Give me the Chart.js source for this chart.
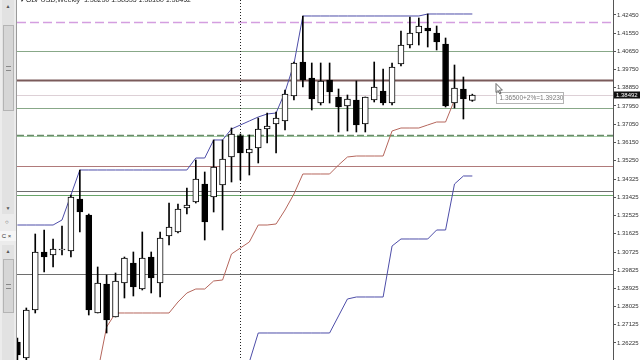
<!DOCTYPE html>
<html>
<head>
<meta charset="utf-8">
<script src="https://cdn.jsdelivr.net/npm/chart.js@4.4.1/dist/chart.umd.min.js"></script>
<style>
  html, body { margin: 0; padding: 0; background: #fff; overflow: hidden; }
  #wrap { position: relative; width: 640px; height: 360px; }
  #side { position: absolute; left: 0; top: 0; width: 16px; height: 360px; background: #ececec; border-right: 1px solid #9a9a9a; font: 6px 'Liberation Sans', sans-serif; color: #333; }
  .track { position: absolute; left: 2px; width: 12px; background: #e2e2e2; }
  .arrow { position: absolute; left: 0; width: 12px; text-align: center; font-size: 5px; color: #555; }
  .thumb { position: absolute; left: 1px; width: 9px; background: #d6d6d6; border: 1px solid #b4b4b4; }
  .grip { position: absolute; left: 2px; width: 5px; height: 3px; border-top: 1px solid #888; border-bottom: 1px solid #888; }
  #box { position: absolute; left: 17px; top: 0; width: 623px; height: 360px; }
</style>
</head>
<body>
<div id="wrap">
  <div id="side">
    <div class="track" style="top:0;height:214px">
      <div class="arrow" style="top:3px">▲</div>
      <div class="thumb" style="top:25px;height:84px"><div class="grip" style="top:40px"></div></div>
      <div class="arrow" style="top:205px">▼</div>
    </div>
    <div style="position:absolute;left:5px;top:219px;font-size:6px">○</div>
    <div style="position:absolute;left:0;top:231px;width:16px;height:10px;background:#f6f6f6;font-size:6px;line-height:10px">&nbsp;C ×</div>
    <div class="track" style="top:245px;height:115px">
      <div class="arrow" style="top:3px">▲</div>
      <div class="thumb" style="top:14px;height:52px"><div class="grip" style="top:24px"></div></div>
    </div>
  </div>
  <div id="box"><canvas id="chart"></canvas></div>
</div>
<script>
// GBPUSD weekly bars
const openP = [1.26275, 1.25483, 1.27858, 1.30727, 1.30578, 1.30826, 1.30776, 1.33348, 1.32557, 1.27709,
  1.29144, 1.27511, 1.29193, 1.30182, 1.28896, 1.30479, 1.29193, 1.31518, 1.31716, 1.32903,
  1.33200, 1.34090, 1.33447, 1.34041, 1.35426, 1.36465, 1.35624, 1.35871, 1.36811, 1.37058,
  1.37207, 1.38443, 1.40125, 1.39334, 1.38097, 1.39235, 1.38394, 1.37949, 1.38245, 1.37058,
  1.38245, 1.38691, 1.38097, 1.40026, 1.40966, 1.41560, 1.41807, 1.41560, 1.41016, 1.38097,
  1.38790, 1.38230];
const highP = [1.26472, 1.27957, 1.31617, 1.31815, 1.31370, 1.32013, 1.33546, 1.34783, 1.32606, 1.29985,
  1.29589, 1.29688, 1.30479, 1.30727, 1.31716, 1.30727, 1.31716, 1.33150, 1.33101, 1.33892,
  1.35277, 1.34684, 1.36267, 1.36267, 1.36860, 1.36564, 1.36514, 1.37355, 1.37602, 1.37652,
  1.38740, 1.40125, 1.42401, 1.40076, 1.40076, 1.40076, 1.38790, 1.38493, 1.39185, 1.38394,
  1.40125, 1.39779, 1.40076, 1.41659, 1.42351, 1.42302, 1.42500, 1.41906, 1.41312, 1.39977,
  1.39383, 1.38535];
const lowP = [1.25137, 1.25285, 1.27709, 1.29737, 1.29985, 1.30578, 1.30479, 1.31716, 1.27610, 1.27709,
  1.26720, 1.27511, 1.28451, 1.28550, 1.28847, 1.28699, 1.28501, 1.31073, 1.31666, 1.32606,
  1.33150, 1.31320, 1.32705, 1.31815, 1.34189, 1.34288, 1.34535, 1.35129, 1.36118, 1.35624,
  1.36761, 1.38245, 1.38889, 1.37751, 1.37998, 1.38097, 1.36663, 1.36712, 1.36663, 1.36663,
  1.38147, 1.37998, 1.37998, 1.39927, 1.40818, 1.40966, 1.40867, 1.40719, 1.37899, 1.37850,
  1.37306, 1.38180];
const closeP = [1.25632, 1.27858, 1.30727, 1.30479, 1.30875, 1.30875, 1.33447, 1.32705, 1.27858, 1.29193,
  1.27363, 1.29292, 1.30430, 1.28995, 1.30430, 1.29441, 1.31419, 1.31963, 1.32854, 1.33051,
  1.34338, 1.32211, 1.34931, 1.35327, 1.36564, 1.35624, 1.35822, 1.36811, 1.36959, 1.37355,
  1.38542, 1.40076, 1.39235, 1.38295, 1.39185, 1.38641, 1.37899, 1.38295, 1.37009, 1.38394,
  1.38889, 1.38097, 1.39878, 1.40966, 1.41560, 1.41906, 1.41659, 1.41114, 1.37949, 1.38839,
  1.38295, 1.38492];

// channel indicator lines
const upperBand = [1.32062, 1.32062, 1.32062, 1.32062, 1.32062, 1.32310, 1.33546, 1.34783, 1.34783, 1.34783,
  1.34783, 1.34783, 1.34783, 1.34783, 1.34783, 1.34783, 1.34783, 1.34783, 1.34783, 1.34783,
  1.35376, 1.35376, 1.36267, 1.36267, 1.36811, 1.37009, 1.37207, 1.37405, 1.37553, 1.37602,
  1.38641, 1.40026, 1.42401, 1.42401, 1.42401, 1.42401, 1.42401, 1.42401, 1.42401, 1.42401,
  1.42401, 1.42401, 1.42401, 1.42401, 1.42401, 1.42401, 1.42500, 1.42500, 1.42500, 1.42500,
  1.42500, 1.42500];
const lowerBand = [null, null, null, null, null, null, null, null, null, 1.24791,
  1.27017, 1.27709, 1.27709, 1.27709, 1.27709, 1.27709, 1.27709, 1.27709, 1.28253, 1.28699,
  1.28896, 1.28896, 1.29292, 1.29342, 1.30628, 1.30924, 1.31221, 1.32062, 1.32062, 1.32112,
  1.32804, 1.33596, 1.34585, 1.34585, 1.34585, 1.34585, 1.35030, 1.35426, 1.35475, 1.35475,
  1.35475, 1.35475, 1.36712, 1.36860, 1.36860, 1.36860, 1.37009, 1.37157, 1.37157, 1.38245,
  null, null];
const lowerBand2 = [null, null, null, null, null, null, null, null, null, null,
  null, null, null, null, null, null, null, null, null, null,
  null, null, null, null, null, 1.23801, 1.25285, 1.26720, 1.26720, 1.26720,
  1.26720, 1.26720, 1.26720, 1.26720, 1.26720, 1.26720, 1.27561, 1.28402, 1.28501, 1.28501,
  1.28501, 1.28501, 1.31023, 1.31370, 1.31370, 1.31370, 1.31370, 1.31815, 1.31815, 1.34090,
  1.34486, 1.34486];

// horizontal levels drawn across the chart
const levels = [1.42128, 1.40684, 1.39230, 1.37835, 1.36480, 1.36500, 1.34981, 1.33744, 1.33546, 1.29638];
const levelStyles = [
  { c: '#d49ee0', w: 1.3, d: [9, 4] },
  { c: '#88a888', w: 1 },
  { c: '#7a5a5a', w: 2 },
  { c: '#88a888', w: 1 },
  { c: '#a8cfa8', w: 1 },
  { c: '#6a8c6a', w: 1.4, d: [7, 3] },
  { c: '#b07a7a', w: 1 },
  { c: '#6e6e6e', w: 1 },
  { c: '#6aa46a', w: 1 },
  { c: '#6e6e6e', w: 1 }
];
const bid = 1.38492;
const cursorBar = 25;
const yTicks = [1.42450, 1.41550, 1.40650, 1.39750, 1.38850, 1.37950, 1.37050, 1.36150, 1.35250, 1.34325,
  1.33425, 1.32525, 1.31625, 1.30725, 1.29825, 1.28925, 1.28025, 1.27125, 1.26225];
const titleText = '▾ GBPUSD,Weekly  1.38230 1.38535 1.38180 1.38492';
const noteText = '1.36500+2%=1.39230';

const idx = openP.map((_, i) => i);
const bull = idx.map(i => closeP[i] >= openP[i]);

const chartDecor = {
  id: 'chartDecor',
  beforeDatasetsDraw(chart) {
    const { ctx, chartArea: a, scales: { x, y } } = chart;
    ctx.save();
    levels.forEach((v, k) => {
      const s = levelStyles[k];
      const py = Math.round(y.getPixelForValue(v)) + 0.5;
      ctx.strokeStyle = s.c;
      ctx.lineWidth = s.w;
      ctx.setLineDash(s.d || []);
      ctx.beginPath();
      ctx.moveTo(a.left, py);
      ctx.lineTo(a.right, py);
      ctx.stroke();
    });
    // bid line
    const by = Math.round(y.getPixelForValue(bid)) + 0.5;
    ctx.setLineDash([]);
    ctx.strokeStyle = '#ddd0d6';
    ctx.lineWidth = 1;
    ctx.beginPath();
    ctx.moveTo(a.left, by);
    ctx.lineTo(a.right, by);
    ctx.stroke();
    // crosshair dotted vertical
    const cx = Math.round(x.getPixelForValue(cursorBar)) + 0.5;
    ctx.strokeStyle = '#222';
    ctx.setLineDash([1, 2]);
    ctx.beginPath();
    ctx.moveTo(cx, a.top);
    ctx.lineTo(cx, a.bottom);
    ctx.stroke();
    ctx.restore();
  },
  afterDraw(chart) {
    const { ctx, chartArea: a, scales: { x, y } } = chart;
    ctx.save();
    // title, cut at the top like the terminal
    ctx.fillStyle = '#222';
    ctx.font = 'italic 7px "Liberation Sans"';
    ctx.textBaseline = 'alphabetic';
    ctx.fillText(titleText, a.left + 3, 1.5);
    // current price box on the axis
    const by = y.getPixelForValue(bid);
    ctx.fillStyle = '#111';
    ctx.fillRect(a.right + 1, Math.round(by) - 3.5, 26, 7);
    ctx.fillStyle = '#fff';
    ctx.font = '6px "Liberation Sans"';
    ctx.textBaseline = 'middle';
    ctx.fillText(bid.toFixed(5), a.right + 3, by);
    // note label near the cursor
    const nx = Math.round(x.getPixelForValue(53.7)) + 0.5;
    const ny = Math.round(y.getPixelForValue(1.38641)) + 0.5;
    ctx.fillStyle = '#fff';
    ctx.fillRect(nx, ny, 67, 11);
    ctx.strokeStyle = '#b4b4b4';
    ctx.lineWidth = 1;
    ctx.strokeRect(nx, ny, 67, 11);
    ctx.fillStyle = '#777';
    ctx.font = '6.5px "Liberation Sans"';
    ctx.fillText(noteText, nx + 3, ny + 6);
    // mouse pointer
    const px = nx - 0.5, py = ny - 9;
    ctx.beginPath();
    ctx.moveTo(px, py);
    ctx.lineTo(px, py + 9);
    ctx.lineTo(px + 2.2, py + 7);
    ctx.lineTo(px + 3.8, py + 10.5);
    ctx.lineTo(px + 5, py + 10);
    ctx.lineTo(px + 3.5, py + 6.6);
    ctx.lineTo(px + 6.4, py + 6.6);
    ctx.closePath();
    ctx.fillStyle = '#fff';
    ctx.fill();
    ctx.strokeStyle = '#666';
    ctx.stroke();
    ctx.restore();
  }
};

new Chart(document.getElementById('chart'), {
  type: 'bar',
  data: {
    datasets: [
      {
        label: 'Body',
        data: idx.map(i => ({ x: i, y: [openP[i], closeP[i]] })),
        backgroundColor: bull.map(b => b ? '#ffffff' : '#000000'),
        borderColor: '#000',
        borderWidth: 1,
        borderSkipped: false,
        barThickness: 6,
        minBarLength: 1,
        grouped: false
      },
      {
        label: 'Wick',
        data: idx.map(i => ({ x: i, y: [lowP[i], highP[i]] })),
        backgroundColor: '#000',
        borderWidth: 0,
        barThickness: 1,
        grouped: false
      },
      {
        type: 'line',
        label: 'Upper',
        data: idx.map(i => ({ x: i, y: upperBand[i] })),
        borderColor: '#4d4da8',
        borderWidth: 1,
        pointRadius: 0,
        tension: 0
      },
      {
        type: 'line',
        label: 'Lower',
        data: idx.map(i => ({ x: i, y: lowerBand[i] })),
        borderColor: '#b5665c',
        borderWidth: 1,
        pointRadius: 0,
        tension: 0
      },
      {
        type: 'line',
        label: 'Lower 2',
        data: idx.map(i => ({ x: i, y: lowerBand2[i] })),
        borderColor: '#4d4da8',
        borderWidth: 1,
        pointRadius: 0,
        tension: 0
      }
    ]
  },
  options: {
    responsive: true,
    maintainAspectRatio: false,
    animation: false,
    layout: { padding: 0 },
    plugins: {
      legend: { display: false },
      tooltip: { enabled: false }
    },
    scales: {
      x: {
        type: 'linear',
        min: -0.045,
        max: 66.77,
        offset: false,
        display: false
      },
      y: {
        position: 'right',
        min: 1.25384,
        max: 1.43192,
        afterBuildTicks: s => { s.ticks = yTicks.map(v => ({ value: v })); },
        afterFit: s => { s.width = 27; s.paddingTop = 0; s.paddingBottom = 0; },
        grid: { drawOnChartArea: false, tickLength: 3, color: '#555' },
        border: { color: '#555', width: 1 },
        ticks: {
          autoSkip: false,
          padding: 1,
          color: '#333',
          font: { family: 'Liberation Sans', size: 6 },
          callback: v => v.toFixed(5)
        }
      }
    }
  },
  plugins: [chartDecor]
});
</script>
</body>
</html>
